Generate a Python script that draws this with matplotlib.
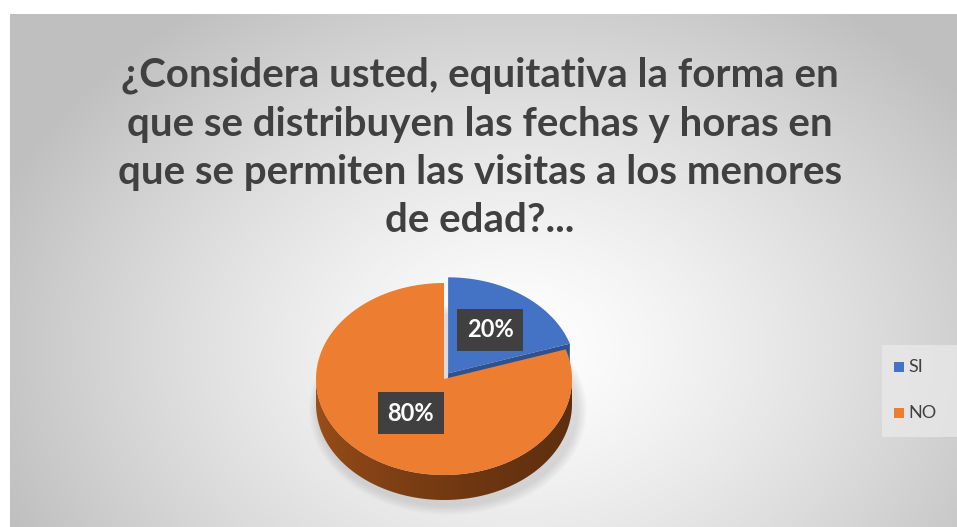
import numpy as np
import matplotlib
matplotlib.use('Agg')
import matplotlib.pyplot as plt
from matplotlib.patches import Polygon, Rectangle, Ellipse
from matplotlib.path import Path
from matplotlib.patches import PathPatch

# datos del grafico
title = ('¿Considera usted, equitativa la forma en\n'
         'que se distribuyen las fechas y horas en\n'
         'que se permiten las visitas a los menores\n'
         'de edad?...')
labels = ['SI', 'NO']
values = [20, 80]
colors = ['#4472C4', '#ED7D31']
side_colors = ['#2F528F', '#8A4516']

W, H = 957, 527
fig = plt.figure(figsize=(W / 100, H / 100), dpi=100)
ax = fig.add_axes([0, 0, 1, 1])
ax.set_xlim(0, W)
ax.set_ylim(H, 0)
ax.axis('off')

# fondo con degradado radial
x0, y0 = 10, 14
gx, gy = np.meshgrid(np.linspace(x0, W, 400), np.linspace(y0, H, 250))
d = np.hypot((gx - 520) / 560, (gy - 350) / 420)
d = np.clip(d, 0, 1) ** 1.3
bg = 1.0 - 0.25 * d
ax.imshow(np.dstack([bg, bg, bg]), extent=[x0, W, H, y0], aspect='auto', zorder=0)

# geometria del pastel 3D
cx, cy, a, b, depth = 444, 379, 128, 96, 25
explode = [7, 0]


def pt(t, r=1.0, dx=0, dy=0):
    return cx + dx + a * r * np.cos(t), cy + dy - b * r * np.sin(t)


# sombra
for i in range(10):
    ax.add_patch(Ellipse((cx + 4, cy + depth + 6), 2 * a + 22 - 2 * i, 2 * b + 18 - 2 * i,
                         color='#808080', alpha=0.025, lw=0, zorder=1))

# angulos: empieza a las 12 y avanza en sentido horario
total = sum(values)
angles = []
start = 90.0
for v in values:
    sweep = 360.0 * v / total
    angles.append((start - sweep, start))
    start -= sweep

offsets = []
for (t1, t2), e in zip(angles, explode):
    mid = np.radians((t1 + t2) / 2)
    offsets.append((e * np.cos(mid), -e * np.sin(mid)))

# caras laterales
for i, ((t1, t2), (dx, dy)) in enumerate(zip(angles, offsets)):
    lo, hi = np.radians(t1), np.radians(t2)
    # pared frontal curva (parte con sen < 0)
    segs = []
    for k in range(-1, 2):
        s1 = max(lo, np.pi + 2 * np.pi * k)
        s2 = min(hi, 2 * np.pi + 2 * np.pi * k)
        if s2 > s1:
            segs.append((s1, s2))
    for s1, s2 in segs:
        t = np.linspace(s1, s2, 120)
        xt, yt = pt(t, dx=dx, dy=dy)
        verts = list(zip(xt, yt)) + list(zip(xt[::-1], yt[::-1] + depth))
        path = Path(verts + [verts[0]], closed=True)
        patch = PathPatch(path, fc='none', ec='none', zorder=2)
        ax.add_patch(patch)
        grad = np.linspace(0, 1, 256)[None, :]
        c0 = np.array(matplotlib.colors.to_rgb(side_colors[i])) * 1.15
        c1 = np.array(matplotlib.colors.to_rgb(side_colors[i])) * 0.68
        img = c0[None, None, :] * (1 - grad[..., None] ** 0.6) + c1[None, None, :] * grad[..., None] ** 0.6
        im = ax.imshow(np.clip(img, 0, 1), extent=[cx - a + dx, cx + a + dx, cy + dy + b + depth, cy + dy - b],
                       aspect='auto', zorder=2)
        im.set_clip_path(patch)
    # cara radial del borde inicial (visible si mira hacia el frente)
    if np.cos(lo) > 0 and np.sin(lo) > 0:
        px, py = pt(lo, dx=dx, dy=dy)
        ax.add_patch(Polygon([(cx + dx, cy + dy), (px, py), (px, py + depth), (cx + dx, cy + dy + depth)],
                             closed=True, fc=side_colors[i], ec='none', zorder=2))

# caras superiores
for i, ((t1, t2), (dx, dy)) in enumerate(zip(angles, offsets)):
    t = np.radians(np.linspace(t1, t2, 200))
    xt, yt = pt(t, dx=dx, dy=dy)
    verts = [(cx + dx, cy + dy)] + list(zip(xt, yt))
    ax.add_patch(Polygon(verts, closed=True, fc=colors[i], ec='none', zorder=3))

# etiquetas de porcentaje
label_r = [0.56, 0.44]
for i, ((t1, t2), (dx, dy)) in enumerate(zip(angles, offsets)):
    mid = np.radians((t1 + t2) / 2)
    lx, ly = pt(mid, r=label_r[i], dx=dx, dy=dy)
    ax.text(lx, ly, f'{values[i] / total:.0%}', ha='center', va='center', color='white',
            fontsize=17, fontweight='bold', family='Lato', zorder=5,
            bbox=dict(boxstyle='square,pad=0.4', fc='#404040', ec='none'))

# titulo
ax.text(480, 148, title, ha='center', va='center', color='#404040', fontsize=29,
        fontweight='bold', family='Lato', linespacing=1.38, zorder=5)

# leyenda
ax.add_patch(Rectangle((882, 345), 75, 92, fc='#EBEBEB', ec='none', alpha=0.7, zorder=4))
for i, lab in enumerate(labels):
    yy = 367 + 46 * i
    ax.add_patch(Rectangle((894, yy - 5), 10, 10, fc=colors[i], ec='none', zorder=5))
    ax.text(908, yy, lab, ha='left', va='center', color='#404040', fontsize=13,
            family='Lato', zorder=5)

fig.savefig('out.png', dpi=100)
